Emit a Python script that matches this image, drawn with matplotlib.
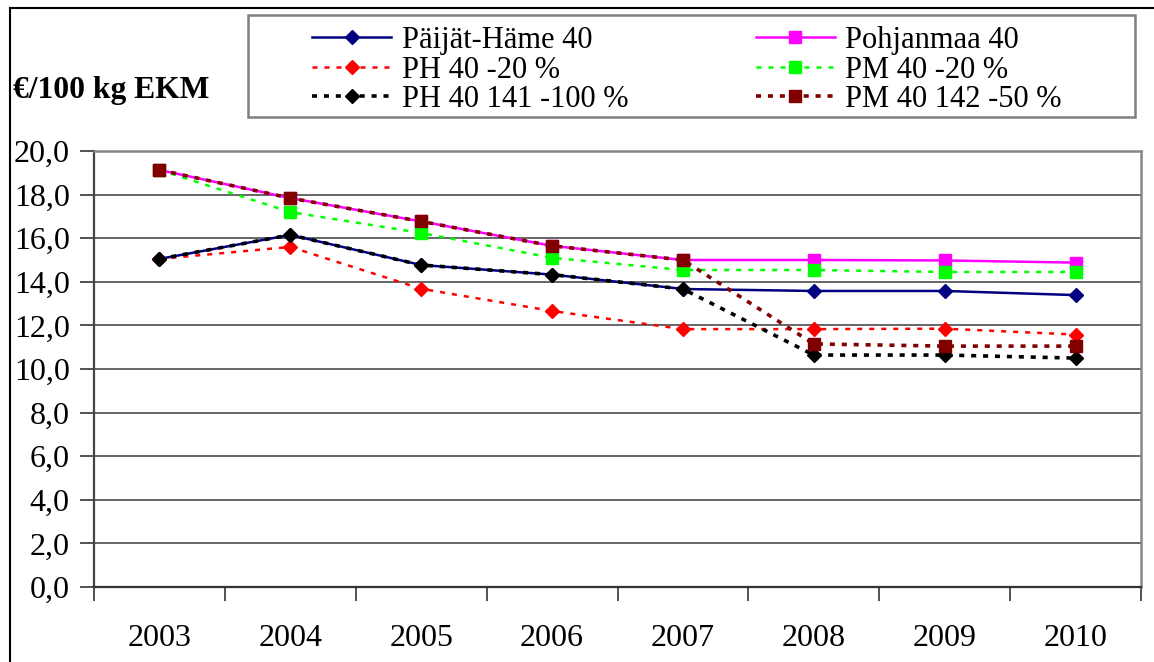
import matplotlib
matplotlib.use('Agg')
import matplotlib.pyplot as plt
from matplotlib.lines import Line2D
from matplotlib.patches import Rectangle
from matplotlib.ticker import FuncFormatter, FixedLocator

plt.rcParams['font.family'] = 'serif'
plt.rcParams['font.serif'] = ['Liberation Serif', 'Times New Roman', 'DejaVu Serif']

years = ['2003', '2004', '2005', '2006', '2007', '2008', '2009', '2010']
paijat_hame_40 = [15.05, 16.15, 14.77, 14.33, 13.67, 13.58, 13.58, 13.39]
pohjanmaa_40 = [19.13, 17.84, 16.77, 15.65, 15.0, 15.0, 14.98, 14.88]
ph_40_20 = [15.05, 15.6, 13.68, 12.66, 11.83, 11.83, 11.85, 11.58]
pm_40_20 = [19.13, 17.2, 16.24, 15.1, 14.54, 14.54, 14.45, 14.45]
ph_40_141_100 = [15.05, 16.15, 14.77, 14.33, 13.67, 10.64, 10.64, 10.5]
pm_40_142_50 = [19.13, 17.84, 16.77, 15.65, 15.0, 11.15, 11.05, 11.05]

W, H = 1154, 662
fig = plt.figure(figsize=(W/100, H/100), dpi=100)
ax = fig.add_axes([94/W, 1-587/H, (1141-94)/W, (587-151)/H])

x = list(range(len(years)))
dash_thin = (0, (2.0, 2.8))
dash_thick = (0, (1.4, 1.9))
h1, = ax.plot(x, paijat_hame_40, color='#000080', lw=1.8, marker='D', ms=7.5, label='Päijät-Häme 40')
h2, = ax.plot(x, pohjanmaa_40, color='#FF00FF', lw=1.8, marker='s', ms=8.5, label='Pohjanmaa 40')
h3, = ax.plot(x, ph_40_20, color='#FF0000', lw=1.8, ls=dash_thin, marker='D', ms=7.5, label='PH 40 -20 %')
h4, = ax.plot(x, pm_40_20, color='#00FF00', lw=1.8, ls=dash_thin, marker='s', ms=8.5, label='PM 40 -20 %')
h5, = ax.plot(x, ph_40_141_100, color='#000000', lw=2.6, ls=dash_thick, marker='D', ms=7.5, label='PH 40 141 -100 %')
h6, = ax.plot(x, pm_40_142_50, color='#800000', lw=2.6, ls=dash_thick, marker='s', ms=8.5, label='PM 40 142 -50 %')

ax.set_xlim(-0.5, 7.5)
ax.set_ylim(0, 20)
ax.set_yticks([0, 2, 4, 6, 8, 10, 12, 14, 16, 18, 20])
ax.yaxis.set_major_formatter(FuncFormatter(lambda v, p: f'{v:.1f}'.replace('.', ',')))
ax.grid(axis='y', color='#5a5a5a', lw=1.3)
ax.set_axisbelow(True)
ax.tick_params(axis='y', length=10, width=1.3, color='#444444', pad=7.5, labelsize=23)

ax.set_xticks(x)
ax.set_xticklabels(years)
ax.xaxis.set_minor_locator(FixedLocator([i - 0.5 for i in range(len(years) + 1)]))
ax.tick_params(axis='x', which='major', length=0, pad=27, labelsize=23)
ax.tick_params(axis='x', which='minor', length=10, width=1.3, color='#444444')

for s in ['top', 'right']:
    ax.spines[s].set_color('#888888')
    ax.spines[s].set_linewidth(1.8)
ax.spines['left'].set_color('#444444')
ax.spines['left'].set_linewidth(1.6)
ax.spines['bottom'].set_color('#333333')
ax.spines['bottom'].set_linewidth(1.6)

fig.text(13/W, 1-98/H, '€/100 kg EKM', fontsize=22.8, fontweight='bold', va='baseline', ha='left')

# legend frame drawn separately (wide side padding)
fig.add_artist(Rectangle((248/W, 1-117/H), (1135-248)/W, (117-15)/H, transform=fig.transFigure,
                         fill=True, facecolor='white', edgecolor='#808080', lw=1.8, zorder=2))
order = [h1, h3, h5, h2, h4, h6]
leg = fig.legend(order, [h.get_label() for h in order],
                 ncol=2, loc='center left',
                 bbox_to_anchor=(312/W, 1-70/H),
                 fontsize=22, frameon=False,
                 handlelength=2.6, handletextpad=0.33, columnspacing=4.18,
                 labelspacing=0.02, borderpad=0, borderaxespad=0)
leg.set_zorder(3)

fig.add_artist(Line2D([10/W, 10/W], [0, 1-8/H], transform=fig.transFigure, color='black', lw=1.5))
fig.add_artist(Line2D([10/W, 1], [1-8/H, 1-8/H], transform=fig.transFigure, color='black', lw=1.5))

fig.savefig('out.png', dpi=100)
